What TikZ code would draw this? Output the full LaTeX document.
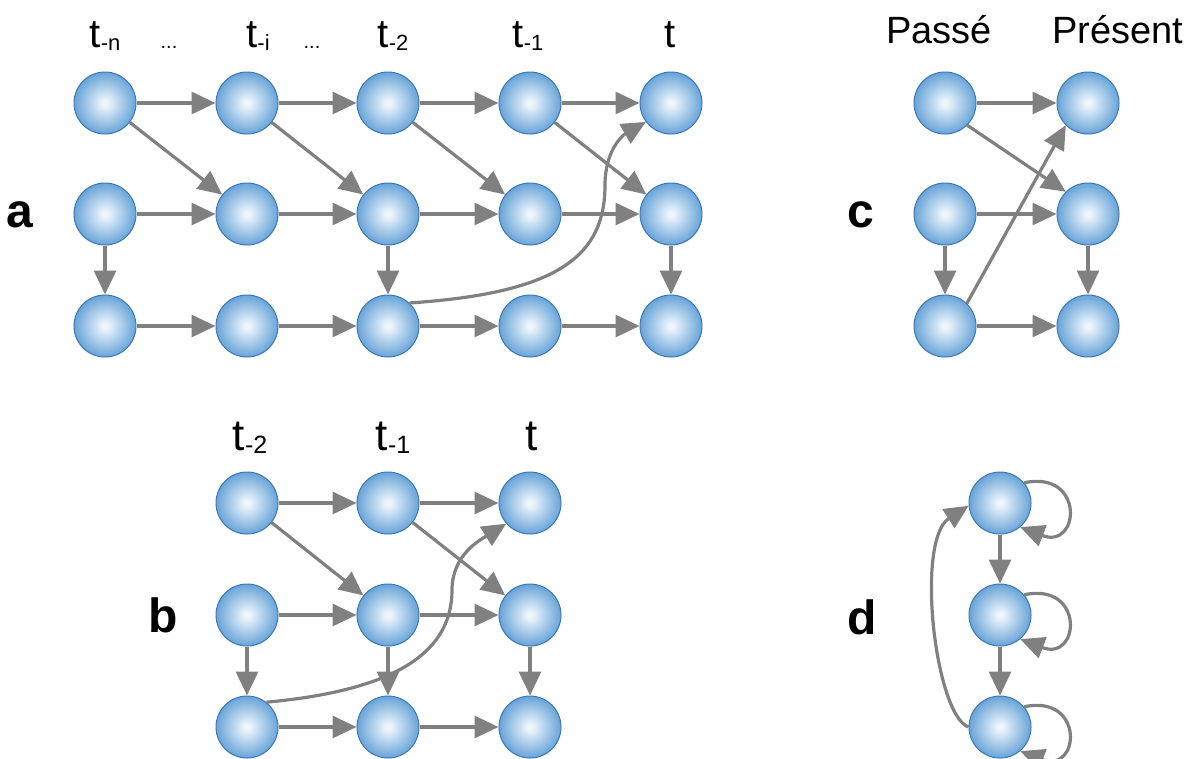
\documentclass[tikz,border=0pt]{standalone}
\usepackage{fontspec}
\setmainfont{Liberation Sans}
\usetikzlibrary{arrows.meta}
\definecolor{gris}{RGB}{128,128,128}
\definecolor{bcentre}{RGB}{238,246,252}
\definecolor{bbord}{RGB}{104,164,216}
\definecolor{btrait}{RGB}{60,120,185}
\pgfdeclareradialshading{bulle}{\pgfpoint{0bp}{0bp}}{color(0bp)=(bcentre); color(2bp)=(bcentre); color(25bp)=(bbord); color(50bp)=(bbord)}
\tikzset{
    etat/.style={circle, minimum size=62pt, inner sep=0pt, draw=btrait, line width=1pt, shading=bulle},
    fl/.style={draw=gris, line width=3.2pt, -{Triangle[length=24pt,width=22pt]}},
    temps/.style={font=\fontsize{40}{40}\selectfont, anchor=base, inner sep=0pt},
    tempsb/.style={font=\fontsize{44}{44}\selectfont, anchor=base, inner sep=0pt},
    pts/.style={font=\fontsize{20}{20}\selectfont, anchor=base, inner sep=0pt},
    lettre/.style={font=\fontsize{48}{48}\selectfont\bfseries, inner sep=0pt},
}
\newcommand{\sous}[1]{\raisebox{-3pt}{\fontsize{22}{22}\selectfont -#1}}
\newcommand{\sousb}[1]{\raisebox{-3pt}{\fontsize{25}{25}\selectfont -#1}}

\begin{document}
\begin{tikzpicture}[x=1pt, y=-1pt]
    \useasboundingbox (0,0) rectangle (1196,758);

    \node[temps] (ta1) at (105,47) {t\sous{n}};
    \node[pts] (pa1) at (169,48) {...};
    \node[temps] (ta2) at (258,47) {t\sous{i}};
    \node[pts] (pa2) at (312,48) {...};
    \node[temps] (ta3) at (393,47) {t\sous{2}};
    \node[temps] (ta4) at (528,47) {t\sous{1}};
    \node[temps] (ta5) at (670,47) {t};
    \node[lettre] (la) at (20,215) {a};

    \node[etat] (a11) at (105,103) {};
    \node[etat] (a12) at (247,103) {};
    \node[etat] (a13) at (388,103) {};
    \node[etat] (a14) at (530,103) {};
    \node[etat] (a15) at (671,103) {};
    \node[etat] (a21) at (105,214) {};
    \node[etat] (a22) at (247,214) {};
    \node[etat] (a23) at (388,214) {};
    \node[etat] (a24) at (530,214) {};
    \node[etat] (a25) at (671,214) {};
    \node[etat] (a31) at (105,326) {};
    \node[etat] (a32) at (247,326) {};
    \node[etat] (a33) at (388,326) {};
    \node[etat] (a34) at (530,326) {};
    \node[etat] (a35) at (671,326) {};

    \draw[fl] (a11) -- (a12);
    \draw[fl] (a12) -- (a13);
    \draw[fl] (a13) -- (a14);
    \draw[fl] (a14) -- (a15);
    \draw[fl] (a11) -- (a22);
    \draw[fl] (a12) -- (a23);
    \draw[fl] (a13) -- (a24);
    \draw[fl] (a14) -- (a25);
    \draw[fl] (a21) -- (a22);
    \draw[fl] (a22) -- (a23);
    \draw[fl] (a23) -- (a24);
    \draw[fl] (a24) -- (a25);
    \draw[fl] (a21) -- (a31);
    \draw[fl] (a23) -- (a33);
    \draw[fl] (a25) -- (a35);
    \draw[fl] (a31) -- (a32);
    \draw[fl] (a32) -- (a33);
    \draw[fl] (a33) -- (a34);
    \draw[fl] (a34) -- (a35);
    \draw[fl] (a33.47) .. controls (560,293) and (605,255) .. (605,185)
        .. controls (605,150) and (623,135) .. (a15.217);

    \node[tempsb] (tb1) at (250,450) {t\sousb{2}};
    \node[tempsb] (tb2) at (393,450) {t\sousb{1}};
    \node[tempsb] (tb3) at (532,450) {t};
    \node[lettre] (lb) at (163,615) {b};

    \node[etat] (b11) at (247,503) {};
    \node[etat] (b12) at (388,503) {};
    \node[etat] (b13) at (530,503) {};
    \node[etat] (b21) at (247,615) {};
    \node[etat] (b22) at (388,615) {};
    \node[etat] (b23) at (530,615) {};
    \node[etat] (b31) at (247,727) {};
    \node[etat] (b32) at (388,727) {};
    \node[etat] (b33) at (530,727) {};

    \draw[fl] (b11) -- (b12);
    \draw[fl] (b12) -- (b13);
    \draw[fl] (b11) -- (b22);
    \draw[fl] (b12) -- (b23);
    \draw[fl] (b21) -- (b22);
    \draw[fl] (b22) -- (b23);
    \draw[fl] (b21) -- (b31);
    \draw[fl] (b22) -- (b32);
    \draw[fl] (b23) -- (b33);
    \draw[fl] (b31) -- (b32);
    \draw[fl] (b32) -- (b33);
    \draw[fl] (b31.52) .. controls (400,690) and (452,650) .. (452,590)
        .. controls (452,555) and (480,540) .. (b13.221);

    \node[font=\fontsize{38}{38}\selectfont, anchor=base] (tc1) at (939,43) {Passé};
    \node[font=\fontsize{38}{38}\selectfont, anchor=base] (tc2) at (1118,43) {Présent};
    \node[lettre] (lc) at (861,215) {c};

    \node[etat] (c11) at (945,103) {};
    \node[etat] (c12) at (1088,103) {};
    \node[etat] (c21) at (945,214) {};
    \node[etat] (c22) at (1088,214) {};
    \node[etat] (c31) at (945,326) {};
    \node[etat] (c32) at (1088,326) {};

    \draw[fl] (c11) -- (c12);
    \draw[fl] (c11.-45) -- (c22.135);
    \draw[fl] (c21) -- (c22);
    \draw[fl] (c21) -- (c31);
    \draw[fl] (c22) -- (c32);
    \draw[fl] (c31) -- (c32);
    \draw[fl] (c31.46) -- (c12.225);

    \node[lettre] (ld) at (862,617) {d};

    \node[etat] (d1) at (1000,503) {};
    \node[etat] (d2) at (1000,615) {};
    \node[etat] (d3) at (1000,727) {};

    \draw[fl] (d1) -- (d2);
    \draw[fl] (d2) -- (d3);
    \draw[fl] (d1.40) .. controls +(61,-13) and +(60,23) .. (d1.-50);
    \draw[fl] (d2.40) .. controls +(61,-13) and +(60,23) .. (d2.-50);
    \draw[fl] (d3.40) .. controls +(61,-13) and +(60,23) .. (d3.-50);
    \draw[fl] (d3.west) .. controls (935,715) and (915,540) .. (d1.185);
\end{tikzpicture}
\end{document}
